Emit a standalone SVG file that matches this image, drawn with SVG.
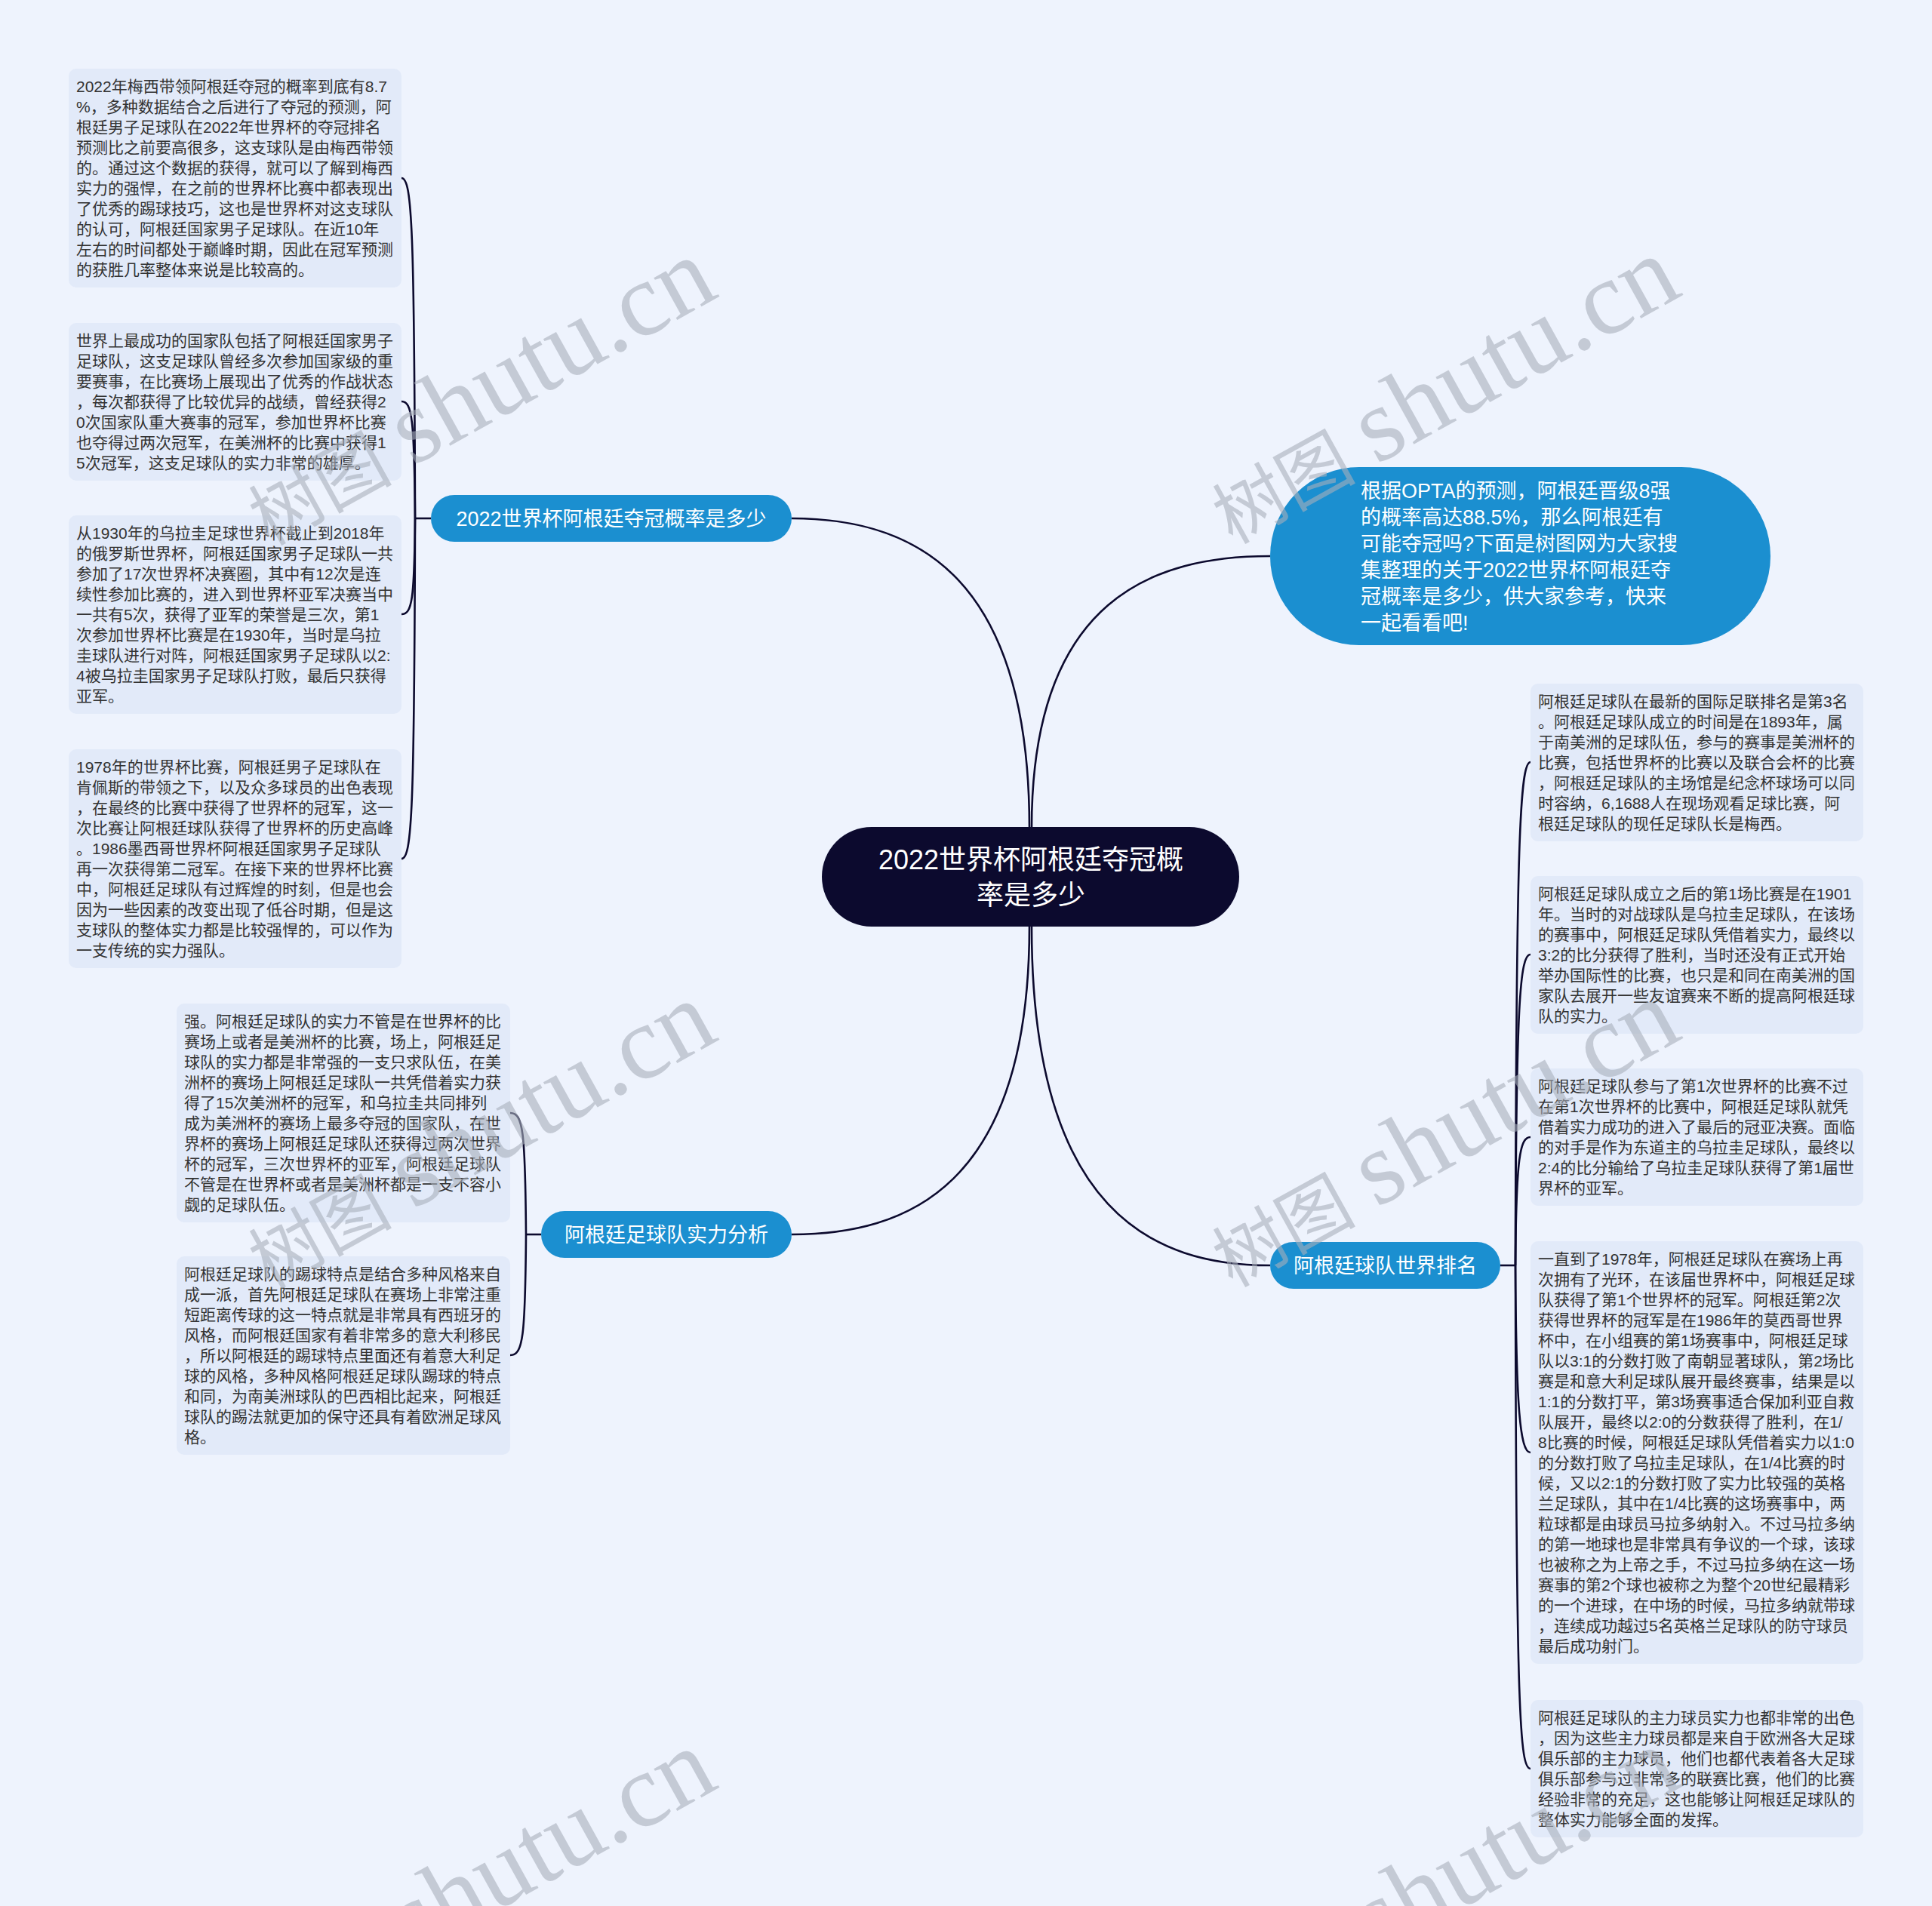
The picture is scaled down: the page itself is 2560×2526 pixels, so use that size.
<svg xmlns="http://www.w3.org/2000/svg" width="2560" height="2526" viewBox="0 0 2560 2526">
<style>
.bg{fill:#eef3fd}
.box{fill:#e2eaf9}
.bt{font-family:'Liberation Sans','Noto Sans CJK SC',sans-serif;font-size:21px;fill:#333333}
.pill{fill:#1b8fd0}
.pt{font-family:'Liberation Sans','Noto Sans CJK SC',sans-serif;font-size:27px;fill:#ffffff}
.root{fill:#0c0a2e}
.rt{font-family:'Liberation Sans','Noto Sans CJK SC',sans-serif;font-size:36px;fill:#ffffff;text-anchor:middle}
.conn{fill:none;stroke:#0c0a2e;stroke-width:2.6}
.wm{font-family:'Liberation Serif','Noto Sans CJK SC',serif;fill:#a9afba;fill-opacity:0.6}
</style>
<rect class="bg" x="0" y="0" width="2560" height="2526"/>

<g id="connectors">
  <path class="conn" d="M1364 1097 C1364 750 1200 687 1049 687"/>
  <path class="conn" d="M1367 1097 C1367 791 1531 737 1683 737"/>
  <path class="conn" d="M1364 1228 C1364 1575 1200 1636 1049 1636"/>
  <path class="conn" d="M1367 1228 C1367 1609 1531 1677 1683 1677"/>
  <path class="conn" d="M571 687 L550 687"/>
  <path class="conn" d="M550 687 C549 304 546 236 532 236"/>
  <path class="conn" d="M550 687 C549 555 546 532 532 532"/>
  <path class="conn" d="M550 687 C549 795 546 814 532 814"/>
  <path class="conn" d="M550 687 C549 1070 546 1138 532 1138"/>
  <path class="conn" d="M717 1636 L697 1636"/>
  <path class="conn" d="M697 1636 C696 1498 693 1475 676 1475"/>
  <path class="conn" d="M697 1636 C696 1772 693 1796 676 1796"/>
  <path class="conn" d="M1988 1677 L2008 1677"/>
  <path class="conn" d="M2008 1677 C2009 1110 2014 1010 2028 1010"/>
  <path class="conn" d="M2008 1677 C2009 1327 2014 1265 2028 1265"/>
  <path class="conn" d="M2008 1677 C2009 1533 2014 1507 2028 1507"/>
  <path class="conn" d="M2008 1677 C2009 1865 2014 1925 2028 1925"/>
  <path class="conn" d="M2008 1677 C2009 2277 2014 2344 2028 2344"/>
</g>

<g id="root">
  <rect class="root" x="1089" y="1096" width="553" height="132" rx="66"/>
  <text class="rt" x="1366" y="1152">2022世界杯阿根廷夺冠概</text>
  <text class="rt" x="1366" y="1199">率是多少</text>
</g>

<g id="intro">
  <rect class="pill" x="1683" y="619" width="663" height="236" rx="118"/>
  <text class="pt" x="1803" y="660">根据OPTA的预测，阿根廷晋级8强</text>
  <text class="pt" x="1803" y="695">的概率高达88.5%，那么阿根廷有</text>
  <text class="pt" x="1803" y="730">可能夺冠吗?下面是树图网为大家搜</text>
  <text class="pt" x="1803" y="765">集整理的关于2022世界杯阿根廷夺</text>
  <text class="pt" x="1803" y="800">冠概率是多少，供大家参考，快来</text>
  <text class="pt" x="1803" y="835">一起看看吧!</text>
</g>

<g id="branch1">
  <rect class="pill" x="571" y="656" width="478" height="62" rx="31"/>
  <text class="pt" x="810" y="697" text-anchor="middle">2022世界杯阿根廷夺冠概率是多少</text>
</g>
<g id="branch2">
  <rect class="pill" x="717" y="1605" width="332" height="62" rx="31"/>
  <text class="pt" x="883" y="1646" text-anchor="middle">阿根廷足球队实力分析</text>
</g>
<g id="branch3">
  <rect class="pill" x="1683" y="1646" width="305" height="62" rx="31"/>
  <text class="pt" x="1835.5" y="1687" text-anchor="middle">阿根廷球队世界排名</text>
</g>

<g id="L1">
  <rect class="box" x="91" y="91" width="441" height="290" rx="10"/>
  <text class="bt" x="101" y="122">2022年梅西带领阿根廷夺冠的概率到底有8.7</text>
  <text class="bt" x="101" y="149">%，多种数据结合之后进行了夺冠的预测，阿</text>
  <text class="bt" x="101" y="176">根廷男子足球队在2022年世界杯的夺冠排名</text>
  <text class="bt" x="101" y="203">预测比之前要高很多，这支球队是由梅西带领</text>
  <text class="bt" x="101" y="230">的。通过这个数据的获得，就可以了解到梅西</text>
  <text class="bt" x="101" y="257">实力的强悍，在之前的世界杯比赛中都表现出</text>
  <text class="bt" x="101" y="284">了优秀的踢球技巧，这也是世界杯对这支球队</text>
  <text class="bt" x="101" y="311">的认可，阿根廷国家男子足球队。在近10年</text>
  <text class="bt" x="101" y="338">左右的时间都处于巅峰时期，因此在冠军预测</text>
  <text class="bt" x="101" y="365">的获胜几率整体来说是比较高的。</text>
</g>
<g id="L2">
  <rect class="box" x="91" y="428" width="441" height="209" rx="10"/>
  <text class="bt" x="101" y="459">世界上最成功的国家队包括了阿根廷国家男子</text>
  <text class="bt" x="101" y="486">足球队，这支足球队曾经多次参加国家级的重</text>
  <text class="bt" x="101" y="513">要赛事，在比赛场上展现出了优秀的作战状态</text>
  <text class="bt" x="101" y="540">，每次都获得了比较优异的战绩，曾经获得2</text>
  <text class="bt" x="101" y="567">0次国家队重大赛事的冠军，参加世界杯比赛</text>
  <text class="bt" x="101" y="594">也夺得过两次冠军，在美洲杯的比赛中获得1</text>
  <text class="bt" x="101" y="621">5次冠军，这支足球队的实力非常的雄厚。</text>
</g>
<g id="L3">
  <rect class="box" x="91" y="683" width="441" height="263" rx="10"/>
  <text class="bt" x="101" y="714">从1930年的乌拉圭足球世界杯截止到2018年</text>
  <text class="bt" x="101" y="741">的俄罗斯世界杯，阿根廷国家男子足球队一共</text>
  <text class="bt" x="101" y="768">参加了17次世界杯决赛圈，其中有12次是连</text>
  <text class="bt" x="101" y="795">续性参加比赛的，进入到世界杯亚军决赛当中</text>
  <text class="bt" x="101" y="822">一共有5次，获得了亚军的荣誉是三次，第1</text>
  <text class="bt" x="101" y="849">次参加世界杯比赛是在1930年，当时是乌拉</text>
  <text class="bt" x="101" y="876">圭球队进行对阵，阿根廷国家男子足球队以2:</text>
  <text class="bt" x="101" y="903">4被乌拉圭国家男子足球队打败，最后只获得</text>
  <text class="bt" x="101" y="930">亚军。</text>
</g>
<g id="L4">
  <rect class="box" x="91" y="993" width="441" height="290" rx="10"/>
  <text class="bt" x="101" y="1024">1978年的世界杯比赛，阿根廷男子足球队在</text>
  <text class="bt" x="101" y="1051">肯佩斯的带领之下，以及众多球员的出色表现</text>
  <text class="bt" x="101" y="1078">，在最终的比赛中获得了世界杯的冠军，这一</text>
  <text class="bt" x="101" y="1105">次比赛让阿根廷球队获得了世界杯的历史高峰</text>
  <text class="bt" x="101" y="1132">。1986墨西哥世界杯阿根廷国家男子足球队</text>
  <text class="bt" x="101" y="1159">再一次获得第二冠军。在接下来的世界杯比赛</text>
  <text class="bt" x="101" y="1186">中，阿根廷足球队有过辉煌的时刻，但是也会</text>
  <text class="bt" x="101" y="1213">因为一些因素的改变出现了低谷时期，但是这</text>
  <text class="bt" x="101" y="1240">支球队的整体实力都是比较强悍的，可以作为</text>
  <text class="bt" x="101" y="1267">一支传统的实力强队。</text>
</g>

<g id="M1">
  <rect class="box" x="234" y="1330" width="442" height="290" rx="10"/>
  <text class="bt" x="244" y="1361">强。阿根廷足球队的实力不管是在世界杯的比</text>
  <text class="bt" x="244" y="1388">赛场上或者是美洲杯的比赛，场上，阿根廷足</text>
  <text class="bt" x="244" y="1415">球队的实力都是非常强的一支只求队伍，在美</text>
  <text class="bt" x="244" y="1442">洲杯的赛场上阿根廷足球队一共凭借着实力获</text>
  <text class="bt" x="244" y="1469">得了15次美洲杯的冠军，和乌拉圭共同排列</text>
  <text class="bt" x="244" y="1496">成为美洲杯的赛场上最多夺冠的国家队，在世</text>
  <text class="bt" x="244" y="1523">界杯的赛场上阿根廷足球队还获得过两次世界</text>
  <text class="bt" x="244" y="1550">杯的冠军，三次世界杯的亚军，阿根廷足球队</text>
  <text class="bt" x="244" y="1577">不管是在世界杯或者是美洲杯都是一支不容小</text>
  <text class="bt" x="244" y="1604">觑的足球队伍。</text>
</g>
<g id="M2">
  <rect class="box" x="234" y="1665" width="442" height="263" rx="10"/>
  <text class="bt" x="244" y="1696">阿根廷足球队的踢球特点是结合多种风格来自</text>
  <text class="bt" x="244" y="1723">成一派，首先阿根廷足球队在赛场上非常注重</text>
  <text class="bt" x="244" y="1750">短距离传球的这一特点就是非常具有西班牙的</text>
  <text class="bt" x="244" y="1777">风格，而阿根廷国家有着非常多的意大利移民</text>
  <text class="bt" x="244" y="1804">，所以阿根廷的踢球特点里面还有着意大利足</text>
  <text class="bt" x="244" y="1831">球的风格，多种风格阿根廷足球队踢球的特点</text>
  <text class="bt" x="244" y="1858">和同，为南美洲球队的巴西相比起来，阿根廷</text>
  <text class="bt" x="244" y="1885">球队的踢法就更加的保守还具有着欧洲足球风</text>
  <text class="bt" x="244" y="1912">格。</text>
</g>

<g id="R1">
  <rect class="box" x="2028" y="906" width="441" height="209" rx="10"/>
  <text class="bt" x="2038" y="937">阿根廷足球队在最新的国际足联排名是第3名</text>
  <text class="bt" x="2038" y="964">。阿根廷足球队成立的时间是在1893年，属</text>
  <text class="bt" x="2038" y="991">于南美洲的足球队伍，参与的赛事是美洲杯的</text>
  <text class="bt" x="2038" y="1018">比赛，包括世界杯的比赛以及联合会杯的比赛</text>
  <text class="bt" x="2038" y="1045">，阿根廷足球队的主场馆是纪念杯球场可以同</text>
  <text class="bt" x="2038" y="1072">时容纳，6,1688人在现场观看足球比赛，阿</text>
  <text class="bt" x="2038" y="1099">根廷足球队的现任足球队长是梅西。</text>
</g>
<g id="R2">
  <rect class="box" x="2028" y="1161" width="441" height="209" rx="10"/>
  <text class="bt" x="2038" y="1192">阿根廷足球队成立之后的第1场比赛是在1901</text>
  <text class="bt" x="2038" y="1219">年。当时的对战球队是乌拉圭足球队，在该场</text>
  <text class="bt" x="2038" y="1246">的赛事中，阿根廷足球队凭借着实力，最终以</text>
  <text class="bt" x="2038" y="1273">3:2的比分获得了胜利，当时还没有正式开始</text>
  <text class="bt" x="2038" y="1300">举办国际性的比赛，也只是和同在南美洲的国</text>
  <text class="bt" x="2038" y="1327">家队去展开一些友谊赛来不断的提高阿根廷球</text>
  <text class="bt" x="2038" y="1354">队的实力。</text>
</g>
<g id="R3">
  <rect class="box" x="2028" y="1416" width="441" height="182" rx="10"/>
  <text class="bt" x="2038" y="1447">阿根廷足球队参与了第1次世界杯的比赛不过</text>
  <text class="bt" x="2038" y="1474">在第1次世界杯的比赛中，阿根廷足球队就凭</text>
  <text class="bt" x="2038" y="1501">借着实力成功的进入了最后的冠亚决赛。面临</text>
  <text class="bt" x="2038" y="1528">的对手是作为东道主的乌拉圭足球队，最终以</text>
  <text class="bt" x="2038" y="1555">2:4的比分输给了乌拉圭足球队获得了第1届世</text>
  <text class="bt" x="2038" y="1582">界杯的亚军。</text>
</g>
<g id="R4">
  <rect class="box" x="2028" y="1645" width="441" height="560" rx="10"/>
  <text class="bt" x="2038" y="1676">一直到了1978年，阿根廷足球队在赛场上再</text>
  <text class="bt" x="2038" y="1703">次拥有了光环，在该届世界杯中，阿根廷足球</text>
  <text class="bt" x="2038" y="1730">队获得了第1个世界杯的冠军。阿根廷第2次</text>
  <text class="bt" x="2038" y="1757">获得世界杯的冠军是在1986年的莫西哥世界</text>
  <text class="bt" x="2038" y="1784">杯中，在小组赛的第1场赛事中，阿根廷足球</text>
  <text class="bt" x="2038" y="1811">队以3:1的分数打败了南朝显著球队，第2场比</text>
  <text class="bt" x="2038" y="1838">赛是和意大利足球队展开最终赛事，结果是以</text>
  <text class="bt" x="2038" y="1865">1:1的分数打平，第3场赛事适合保加利亚自救</text>
  <text class="bt" x="2038" y="1892">队展开，最终以2:0的分数获得了胜利，在1/</text>
  <text class="bt" x="2038" y="1919">8比赛的时候，阿根廷足球队凭借着实力以1:0</text>
  <text class="bt" x="2038" y="1946">的分数打败了乌拉圭足球队，在1/4比赛的时</text>
  <text class="bt" x="2038" y="1973">候，又以2:1的分数打败了实力比较强的英格</text>
  <text class="bt" x="2038" y="2000">兰足球队，其中在1/4比赛的这场赛事中，两</text>
  <text class="bt" x="2038" y="2027">粒球都是由球员马拉多纳射入。不过马拉多纳</text>
  <text class="bt" x="2038" y="2054">的第一地球也是非常具有争议的一个球，该球</text>
  <text class="bt" x="2038" y="2081">也被称之为上帝之手，不过马拉多纳在这一场</text>
  <text class="bt" x="2038" y="2108">赛事的第2个球也被称之为整个20世纪最精彩</text>
  <text class="bt" x="2038" y="2135">的一个进球，在中场的时候，马拉多纳就带球</text>
  <text class="bt" x="2038" y="2162">，连续成功越过5名英格兰足球队的防守球员</text>
  <text class="bt" x="2038" y="2189">最后成功射门。</text>
</g>
<g id="R5">
  <rect class="box" x="2028" y="2253" width="441" height="182" rx="10"/>
  <text class="bt" x="2038" y="2284">阿根廷足球队的主力球员实力也都非常的出色</text>
  <text class="bt" x="2038" y="2311">，因为这些主力球员都是来自于欧洲各大足球</text>
  <text class="bt" x="2038" y="2338">俱乐部的主力球员，他们也都代表着各大足球</text>
  <text class="bt" x="2038" y="2365">俱乐部参与过非常多的联赛比赛，他们的比赛</text>
  <text class="bt" x="2038" y="2392">经验非常的充足，这也能够让阿根廷足球队的</text>
  <text class="bt" x="2038" y="2419">整体实力能够全面的发挥。</text>
</g>

<g id="watermarks">
  <text class="wm" transform="translate(356 724) rotate(-29)"><tspan font-size="95">树图</tspan><tspan font-size="139" dx="28">shutu.cn</tspan></text>
  <text class="wm" transform="translate(1633 722) rotate(-29)"><tspan font-size="95">树图</tspan><tspan font-size="139" dx="28">shutu.cn</tspan></text>
  <text class="wm" transform="translate(356 1709) rotate(-29)"><tspan font-size="95">树图</tspan><tspan font-size="139" dx="28">shutu.cn</tspan></text>
  <text class="wm" transform="translate(1633 1707) rotate(-29)"><tspan font-size="95">树图</tspan><tspan font-size="139" dx="28">shutu.cn</tspan></text>
  <text class="wm" transform="translate(356 2700) rotate(-29)"><tspan font-size="95">树图</tspan><tspan font-size="139" dx="28">shutu.cn</tspan></text>
  <text class="wm" transform="translate(1633 2698) rotate(-29)"><tspan font-size="95">树图</tspan><tspan font-size="139" dx="28">shutu.cn</tspan></text>
</g>
</svg>
